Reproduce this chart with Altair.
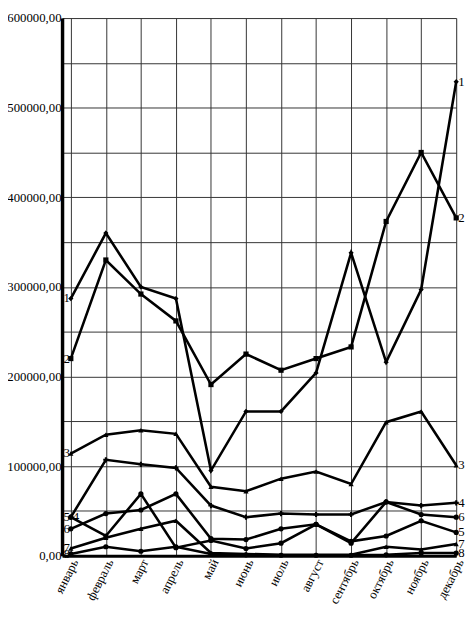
import altair as alt
import pandas as pd

months = ["январь", "февраль", "март", "апрель", "май", "июнь", "июль",
          "август", "сентябрь", "октябрь", "ноябрь", "декабрь"]

s1 = [287000, 360000, 300000, 287000, 95000, 161000, 161000, 204000, 338000, 216000, 297000, 529000]
s2 = [220000, 330000, 292000, 262000, 191000, 225000, 207000, 220000, 233000, 373000, 450000, 377000]
s3 = [114000, 135000, 140000, 136000, 77000, 72000, 86000, 94000, 80000, 149000, 161000, 101000]
s4 = [43000, 107000, 102000, 98000, 56000, 43000, 47000, 46000, 46000, 60000, 56000, 59000]
s5 = [43000, 22000, 69000, 9000, 17000, 8000, 14000, 35000, 16000, 22000, 39000, 26000]
s6 = [30000, 47000, 51000, 69000, 19000, 18000, 30000, 35000, 14000, 60000, 46000, 43000]
s7 = [8000, 20000, 30000, 39000, 3000, 2000, 1000, 1000, 1000, 10000, 7000, 13000]
s8 = [2000, 10000, 5000, 10000, 2000, 1000, 500, 500, 500, 1000, 3000, 3000]

series_names = ["1", "2", "3", "4", "5", "6", "7", "8"]
series_vals = [s1, s2, s3, s4, s5, s6, s7, s8]
shapes = ["diamond", "square", "triangle-up", "cross", "circle", "circle", "triangle-up", "circle"]

rows = []
for name, vals in zip(series_names, series_vals):
    for i, v in enumerate(vals):
        rows.append({"s": name, "idx": i, "v": v})
df = pd.DataFrame(rows)

left_df = pd.DataFrame([{"s": n, "idx": 0, "v": vals[0]} for n, vals in zip(series_names, series_vals) if n != "4"])
left4_df = pd.DataFrame([{"s": "4", "idx": 0, "v": s4[0]}])
right_df = pd.DataFrame([{"s": n, "idx": 11, "v": vals[11]} for n, vals in zip(series_names, series_vals)])

FONT = "Liberation Serif"
month_js = "[" + ",".join("'" + m + "'" for m in months) + "]"

x_axis = alt.Axis(values=list(range(12)), labelExpr=month_js + "[datum.value]",
                  title=None, grid=True, gridColor="#333", gridWidth=1,
                  ticks=False, domain=True, domainColor="black", domainWidth=3,
                  labelAngle=-63, labelAlign="right", labelBaseline="middle",
                  labelFont=FONT, labelFontSize=13, labelColor="black",
                  labelPadding=4, labelOffset=4, labelOverlap=False, labelFlush=False, labelBound=False)
y_axis = alt.Axis(values=list(range(0, 600001, 50000)),
                  labelExpr="datum.value % 100000 == 0 ? datum.value + ',00' : ''",
                  title=None, grid=True, gridColor="#333", gridWidth=1,
                  ticks=False, domain=True, domainColor="black", domainWidth=3.5,
                  labelFont=FONT, labelFontSize=13, labelColor="black",
                  labelPadding=1, labelOverlap=False, labelFlush=False, labelBaseline="middle")
x_scale = alt.Scale(domain=[-0.25, 11], nice=False, zero=False)
y_scale = alt.Scale(domain=[0, 600000], nice=False)

def X():
    return alt.X("idx:Q", scale=x_scale, axis=x_axis)

def Y():
    return alt.Y("v:Q", scale=y_scale, axis=y_axis)

base = alt.Chart(df)
lines = base.mark_line(color="black", strokeWidth=2.6).encode(
    x=X(), y=Y(), detail="s:N")
points = base.mark_point(filled=True, color="black", size=28, opacity=1).encode(
    x=X(), y=Y(),
    shape=alt.Shape("s:N", scale=alt.Scale(domain=series_names, range=shapes), legend=None))

left_text = alt.Chart(left_df).mark_text(align="right", baseline="middle", dx=-1,
                                         font=FONT, fontSize=13, color="black").encode(
    x=X(), y=Y(), text="s:N")
left4_text = alt.Chart(left4_df).mark_text(align="left", baseline="middle", dx=2,
                                           font=FONT, fontSize=13, color="black").encode(
    x=X(), y=Y(), text="s:N")
right_text = alt.Chart(right_df).mark_text(align="left", baseline="middle", dx=2,
                                           font=FONT, fontSize=13, color="black").encode(
    x=X(), y=Y(), text="s:N")

chart = alt.layer(lines, points, left_text, left4_text, right_text).properties(
    width=401, height=547,
    autosize=alt.AutoSizeParams(type="none"),
    padding={"left": 55, "top": 5, "right": 12, "bottom": 50},
).configure_view(stroke=None).configure(background="white").configure_axisX(
    labelOverlap=False
)

chart.save("out.html", embed_options={"renderer": "svg", "actions": False})
